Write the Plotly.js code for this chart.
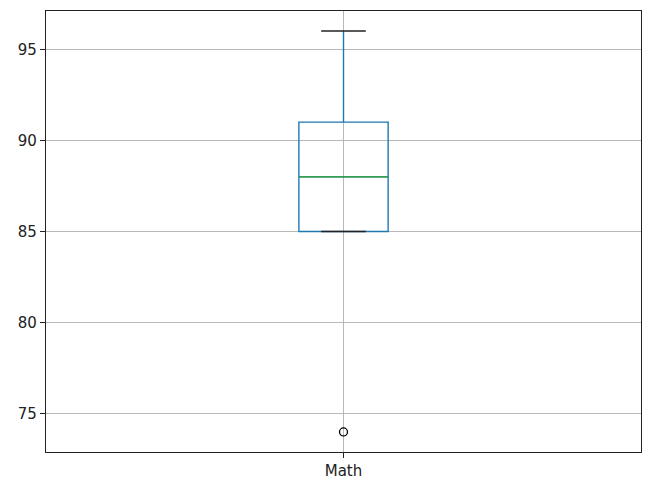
<html>
<head>
<script src="https://cdn.plot.ly/plotly-3.0.1.min.js"></script>
<style>
  body { margin: 0; background: #fff; }
  #chart { width: 654px; height: 486px; }
</style>
</head>
<body>
<div id="chart"></div>
<script>
// scores for the single column
let category = 'Math';
let scores = [74, 85, 88, 91, 96];

let boxColor = '#1f77b4';
let medianColor = '#2ca02c';
let boxWidth = 0.15;
let pos = 1;

// stats for the overlaid median line and caps (inclusive quartiles)
let sorted = scores.slice().sort((a, b) => a - b);
function median(arr) {
  let m = Math.floor(arr.length / 2);
  return arr.length % 2 ? arr[m] : (arr[m - 1] + arr[m]) / 2;
}
let n = sorted.length;
let half = Math.ceil(n / 2);
let q1 = median(sorted.slice(0, half));
let q3 = median(sorted.slice(n - half));
let med = median(sorted);
let iqr = q3 - q1;
let inside = sorted.filter(v => v >= q1 - 1.5 * iqr && v <= q3 + 1.5 * iqr);
let lowCap = inside[0];
let highCap = inside[inside.length - 1];

let capHalf = boxWidth / 4;
let boxHalf = boxWidth / 2;

let data = [
  {
    type: 'box',
    y: scores,
    x0: pos,
    width: boxWidth,
    quartilemethod: 'inclusive',
    boxpoints: 'outliers',
    whiskerwidth: 0,
    fillcolor: 'rgba(0,0,0,0)',
    line: { color: boxColor, width: 1.4 },
    marker: { symbol: 'circle-open', color: '#000', size: 8, line: { width: 1.3 } },
    hoverinfo: 'y',
    showlegend: false
  },
  {
    type: 'scatter', mode: 'lines',
    x: [pos - boxHalf, pos + boxHalf], y: [med, med],
    line: { color: medianColor, width: 1.1 },
    showlegend: false, hoverinfo: 'skip'
  },
  {
    type: 'scatter', mode: 'lines',
    x: [pos - capHalf, pos + capHalf, null, pos - capHalf, pos + capHalf],
    y: [highCap, highCap, null, lowCap, lowCap],
    line: { color: '#222', width: 1.4 },
    showlegend: false, hoverinfo: 'skip'
  }
];

let axisCommon = {
  showline: true, mirror: true, linecolor: '#222', linewidth: 1.1,
  ticks: 'outside', ticklen: 5, tickcolor: '#222', tickwidth: 1.1,
  showgrid: true, gridcolor: '#b0b0b0', gridwidth: 0.9,
  zeroline: false,
  tickfont: { family: 'DejaVu Sans', size: 15, color: '#222' }
};

let layout = {
  width: 654, height: 486,
  margin: { l: 46, r: 13, t: 11, b: 34 },
  paper_bgcolor: '#fff', plot_bgcolor: '#fff',
  xaxis: Object.assign({}, axisCommon, {
    range: [0.5, 1.5],
    tickvals: [pos], ticktext: [category]
  }),
  yaxis: Object.assign({}, axisCommon, {
    range: [72.9, 97.1],
    tickvals: [75, 80, 85, 90, 95]
  })
};

Plotly.newPlot('chart', data, layout, { displayModeBar: false, staticPlot: true });
</script>
</body>
</html>
